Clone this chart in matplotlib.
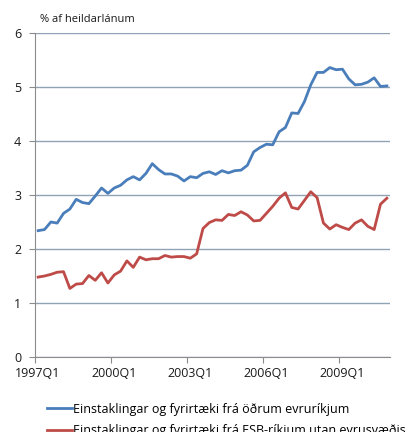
import matplotlib.pyplot as plt
import matplotlib.transforms as mtransforms
import numpy as np

# quarterly shares, 1997Q1 - 2010Q4
euro_area = [2.34, 2.36, 2.50, 2.48, 2.66, 2.74, 2.92, 2.86, 2.84, 2.98,
             3.13, 3.03, 3.13, 3.18, 3.28, 3.34, 3.28, 3.40, 3.58, 3.47,
             3.39, 3.39, 3.35, 3.26, 3.34, 3.32, 3.40, 3.43, 3.38, 3.45,
             3.41, 3.45, 3.46, 3.55, 3.80, 3.88, 3.94, 3.93, 4.17, 4.25,
             4.52, 4.51, 4.73, 5.04, 5.27, 5.27, 5.36, 5.32, 5.33, 5.15,
             5.04, 5.05, 5.09, 5.17, 5.01, 5.02]
eu_non_euro = [1.48, 1.50, 1.53, 1.57, 1.58, 1.27, 1.35, 1.36, 1.51, 1.42,
               1.56, 1.37, 1.52, 1.59, 1.78, 1.66, 1.85, 1.80, 1.82, 1.82,
               1.88, 1.85, 1.86, 1.86, 1.83, 1.91, 2.38, 2.49, 2.54, 2.53,
               2.64, 2.62, 2.69, 2.63, 2.52, 2.53, 2.66, 2.79, 2.94, 3.04,
               2.77, 2.74, 2.90, 3.06, 2.95, 2.48, 2.37, 2.45, 2.40, 2.36,
               2.48, 2.54, 2.42, 2.36, 2.83, 2.94]
tick_labels = ["1997Q1", "2000Q1", "2003Q1", "2006Q1", "2009Q1"]
series_names = ["Einstaklingar og fyrirtæki frá öðrum evruríkjum",
                "Einstaklingar og fyrirtæki frá ESB-ríkjum utan evrusvæðis"]

plt.rcParams["font.family"] = ["Open Sans", "DejaVu Sans"]

fig = plt.figure(figsize=(4.05, 4.32), dpi=100)
ax = fig.add_axes([0.0864, 0.1736, 0.8766, 0.75])

x = np.arange(len(euro_area))
ax.plot(x, euro_area, color="#4a7ebb", lw=2.0, label=series_names[0])
ax.plot(x, eu_non_euro, color="#be4b48", lw=2.0, label=series_names[1])

ax.set_xlim(-0.5, len(x) - 0.5)
ax.set_ylim(0, 6)
ax.set_yticks(range(7))
ax.set_xticks(np.arange(len(tick_labels)) * 12 - 0.5)
ax.set_xticklabels(tick_labels)
ax.grid(axis="y", color="#8fa3b5", lw=1)
ax.set_axisbelow(True)

for side in ["top", "right"]:
    ax.spines[side].set_visible(False)
for side in ["left", "bottom"]:
    ax.spines[side].set_color("#8c8c8c")
ax.tick_params(axis="both", colors="#8c8c8c", labelcolor="#1a1a1a",
               labelsize=9, length=4)
ax.tick_params(axis="y", pad=6)

# excel puts the quarter labels a touch right of the tick
shift = mtransforms.ScaledTranslation(3 / 100, 0, fig.dpi_scale_trans)
for lbl in ax.get_xticklabels():
    lbl.set_transform(lbl.get_transform() + shift)

fig.text(0.099, 0.948, "% af heildarlánum", fontsize=8, color="#1a1a1a")

ax.legend(loc="upper left", bbox_to_anchor=(0.02, -0.125), frameon=False,
          fontsize=9, handlelength=2.0, handletextpad=0.1, labelspacing=0.7,
          borderaxespad=0)

fig.savefig("out.png", dpi=100)
